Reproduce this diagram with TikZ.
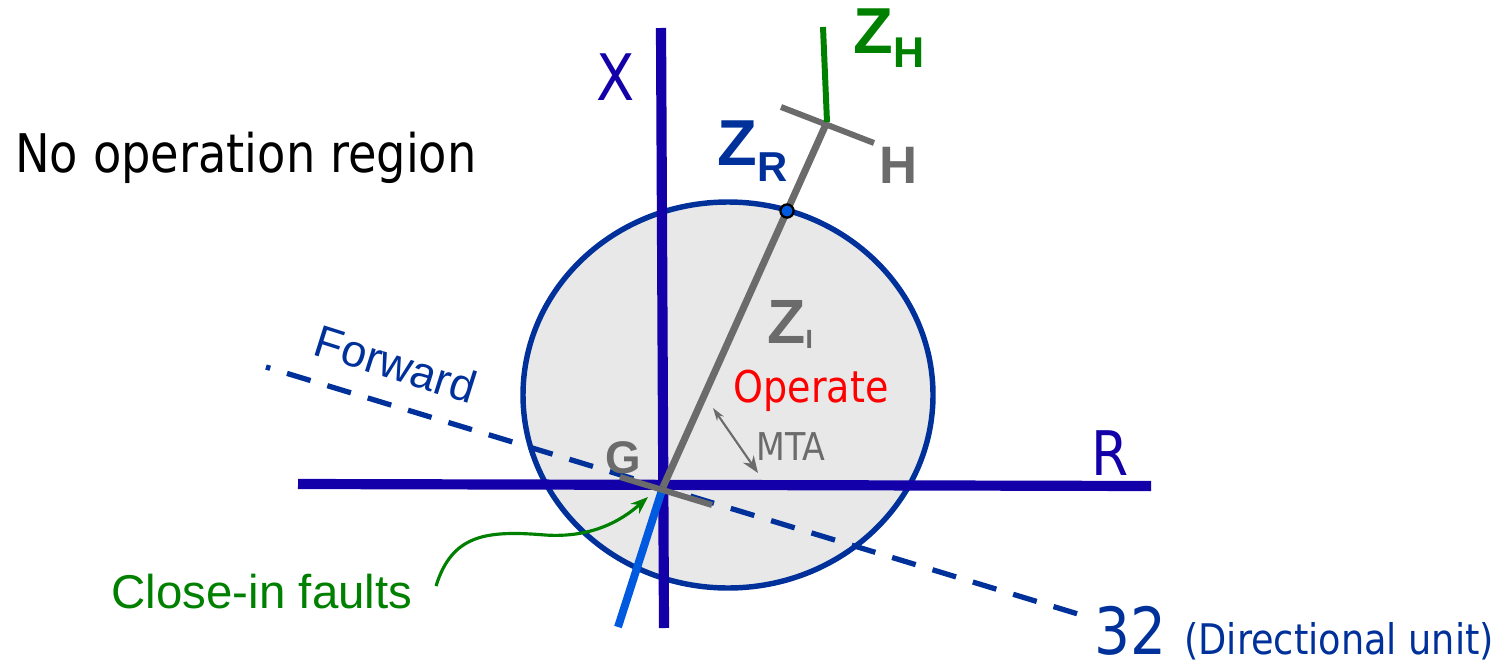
\documentclass[tikz,border=0pt]{standalone}
\usepackage{fontspec}
\setmainfont{DejaVu Sans}[FakeStretch=0.87]
\newfontfamily\arialfont{Liberation Sans}
\usepackage{tikz}
\usetikzlibrary{arrows.meta, calc}

\definecolor{axisblue}{RGB}{20,0,168}
\definecolor{darkblue}{RGB}{0,48,154}
\definecolor{zgray}{RGB}{107,107,107}
\definecolor{zgreen}{RGB}{0,128,0}
\definecolor{faultblue}{RGB}{0,90,224}
\definecolor{relayfill}{RGB}{232,232,232}

\begin{document}
\begin{tikzpicture}[
  x=0.02cm, y=-0.02cm,
  axis/.style={axisblue, line width=5.8pt},
  impline/.style={zgray, line width=4pt},
  crossbar/.style={zgray, line width=3.4pt},
  lbl/.style={inner sep=0pt, anchor=base},
  zlbl/.style={inner sep=0pt, anchor=base west, font=\arialfont\bfseries\fontsize{37}{40}\selectfont},
  dot/.style={circle, draw=black, fill=faultblue, line width=1.3pt, inner sep=0pt, minimum size=7.5pt},
  arr/.style={-{Stealth[length=3.5mm, width=2.6mm]}, zgreen, line width=1.8pt},
]
\useasboundingbox (0,0) rectangle (1507,666);

% Points
\coordinate (G) at (663,487);
\coordinate (H) at (827,122);
\coordinate (zhtop) at (823,27);
\coordinate (xtop) at (661,28);
\coordinate (xbot) at (664,628);
\coordinate (rleft) at (298,484);
\coordinate (rright) at (1151,486);
\coordinate (fwdstart) at (266,367);
\coordinate (fwdend) at (1078,614);
\coordinate (faultend) at (618,627);
\coordinate (gbarA) at (620,477);
\coordinate (gbarB) at (712,505);
\coordinate (hbarA) at (781,107);
\coordinate (hbarB) at (874,143);
\coordinate (mtaA) at (713,408);
\coordinate (mtaB) at (758,473);
\coordinate (cifstart) at (436,586);
\coordinate (cifend) at (648,497);

% Operate circle
\draw[darkblue, line width=3.1pt, fill=relayfill] (728,395) ellipse [x radius=205, y radius=193];

% Directional line
\draw[darkblue, line width=3pt, dash pattern=on 14pt off 10pt, dash phase=11.5pt] (fwdstart) -- (fwdend);

% Axes
\draw[axis] (rleft) -- (rright);
\draw[axis] (xtop) -- (xbot);

% Lines
\draw[faultblue, line width=4.5pt] (G) -- (faultend);
\draw[crossbar] (gbarA) -- (gbarB);
\draw[impline] (G) -- (H);
\draw[crossbar] (hbarA) -- (hbarB);
\draw[zgreen, line width=3.4pt] (H) -- (zhtop);
\node[dot] (zrpoint) at (787,211) {};

% Arrows
\draw[zgray, line width=1.2pt, {Stealth[length=2.6mm, width=1.6mm]}-{Stealth[length=3.4mm, width=2.6mm]}] (mtaA) -- (mtaB);
\draw[arr] (cifstart) .. controls (452,535) and (485,530) .. (545,535) .. controls (590,538) and (620,522) .. (cifend);

% Labels
\node[lbl, anchor=base west, font=\fontsize{30.3}{34}\selectfont] (noop) at (15,172) {No operation region};
\node[lbl, axisblue, font=\fontsize{36.5}{40}\selectfont] (xlbl) at (616,100) {X};
\node[lbl, axisblue, font=\fontsize{35}{40}\selectfont] (rlbl) at (1110,475) {R};
\node[zlbl, zgreen] (zh) at (853,53) {Z\raisebox{-8.5pt}{\fontsize{24.5}{28}\selectfont H}};
\node[zlbl, darkblue] (zr) at (717,165) {Z\raisebox{-9.6pt}{\fontsize{23.8}{28}\selectfont R}};
\node[lbl, zgray, font=\arialfont\bfseries\fontsize{30}{34}\selectfont] (hlbl) at (899,183) {H};
\node[zlbl, zgray, font=\arialfont\bfseries\fontsize{35.6}{40}\selectfont] (zi) at (767,343) {Z\raisebox{-3.4pt}{\fontsize{15}{18}\selectfont I}};
\node[lbl, red, font=\fontsize{24.9}{28}\selectfont] (operate) at (811,402) {Operate};
\node[lbl, zgray, font=\fontsize{21.8}{26}\selectfont] (mta) at (791,460) {MTA};
\node[lbl, zgray, font=\arialfont\bfseries\fontsize{26}{30}\selectfont] (glbl) at (623,473) {G};
\node[darkblue, inner sep=0pt, rotate=-17.5, font=\arialfont\fontsize{25.8}{30}\selectfont] (fwd) at (396,364) {Forward};
\node[lbl, zgreen, font=\arialfont\fontsize{27}{30}\selectfont] (cif) at (262,608) {Close-in faults};
\node[lbl, anchor=base west, darkblue, font=\fontsize{37}{40}\selectfont] (unit) at (1094,654) {32};
\node[lbl, anchor=base west, darkblue, font=\fontsize{24}{28}\selectfont] (unitname) at (1184,654) {(Directional unit)};
\end{tikzpicture}
\end{document}
